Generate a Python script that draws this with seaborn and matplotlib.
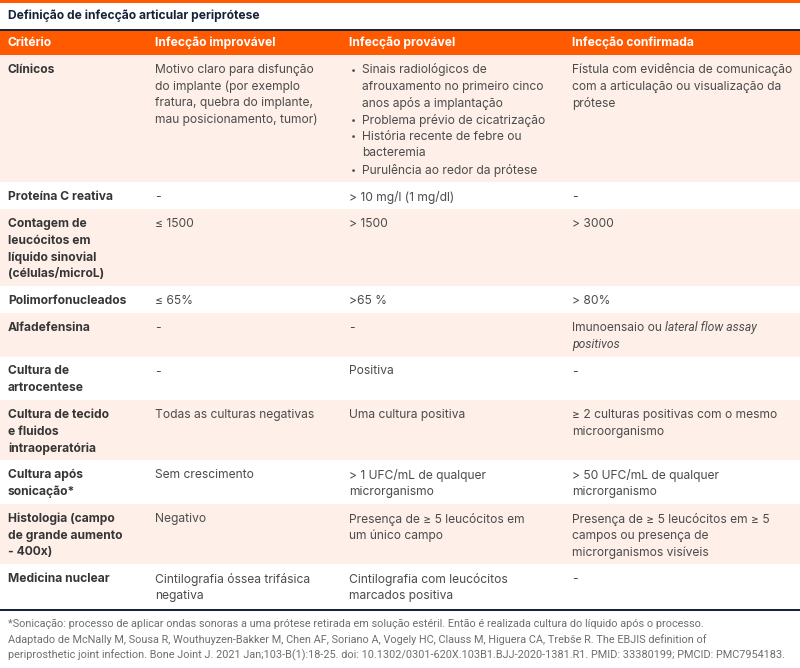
import matplotlib
matplotlib.use("Agg")
import matplotlib.pyplot as plt
import seaborn as sns

# table content
title = "Definição de infecção articular periprótese"
columns = ["Critério", "Infecção improvável", "Infecção provável", "Infecção confirmada"]

criteria = [
    "Clínicos",
    "Proteína C reativa",
    "Contagem de\nleucócitos em\nlíquido sinovial\n(células/microL)",
    "Polimorfonucleados",
    "Alfadefensina",
    "Cultura de\nartrocentese",
    "Cultura de tecido\ne fluidos\nintraoperatória",
    "Cultura após\nsonicação*",
    "Histologia (campo\nde grande aumento\n- 400x)",
    "Medicina nuclear",
]

improvavel = [
    "Motivo claro para disfunção\ndo implante (por exemplo\nfratura, quebra do implante,\nmau posicionamento, tumor)",
    "-",
    "≤ 1500",
    "≤ 65%",
    "-",
    "-",
    "Todas as culturas negativas",
    "Sem crescimento",
    "Negativo",
    "Cintilografia óssea trifásica\nnegativa",
]

# bullet lists are python lists, italic parts are wrapped in _..._
provavel = [
    ["Sinais radiológicos de\nafrouxamento no primeiro cinco\nanos após a implantação",
     "Problema prévio de cicatrização",
     "História recente de febre ou\nbacteremia",
     "Purulência ao redor da prótese"],
    "> 10 mg/l (1 mg/dl)",
    "> 1500",
    ">65 %",
    "-",
    "Positiva",
    "Uma cultura positiva",
    "> 1 UFC/mL de qualquer\nmicrorganismo",
    "Presença de ≥ 5 leucócitos em\num único campo",
    "Cintilografia com leucócitos\nmarcados positiva",
]

confirmada = [
    "Fístula com evidência de comunicação\ncom a articulação ou visualização da\nprótese",
    "-",
    "> 3000",
    "> 80%",
    "Imunoensaio ou _lateral flow assay_\n_positivos_",
    "-",
    "≥ 2 culturas positivas com o mesmo\nmicroorganismo",
    "> 50 UFC/mL de qualquer\nmicrorganismo",
    "Presença de ≥ 5 leucócitos em ≥ 5\ncampos ou presença de\nmicrorganismos visíveis",
    "-",
]

footnote = [
    "*Sonicação: processo de aplicar ondas sonoras a uma prótese retirada em solução estéril. Então é realizada cultura do líquido após o processo.",
    "Adaptado de McNally M, Sousa R, Wouthuyzen-Bakker M, Chen AF, Soriano A, Vogely HC, Clauss M, Higuera CA, Trebše R. The EBJIS definition of",
    "periprosthetic joint infection. Bone Joint J. 2021 Jan;103-B(1):18-25. doi: 10.1302/0301-620X.103B1.BJJ-2020-1381.R1. PMID: 33380199; PMCID: PMC7954183.",
]

ORANGE = "#ff5a00"
PEACH = "#fef0e9"
NAVY = "#16243a"
TEXT = "#4c4c4c"
BOLD_TEXT = "#363636"

sns.set_theme(style="white")
plt.rcParams["font.family"] = ["Inter", "DejaVu Sans"]

W, H = 800, 668
fig = plt.figure(figsize=(8, 6.68), dpi=100)
ax = fig.add_axes([0, 0, 1, 1])
ax.set_xlim(0, W)
ax.set_ylim(H, 0)
ax.axis("off")
renderer = fig.canvas.get_renderer()

FS = 8.7
LH = 16.7
col_x = [8, 155, 349, 572]


def draw_line(x, y, line, color, weight="normal"):
    # split a line into regular / italic segments
    parts = line.split("_")
    for i, part in enumerate(parts):
        if not part:
            continue
        if i % 2 == 1:
            t = ax.text(x, y, part, fontsize=FS, color=color, va="center", ha="left",
                        style="italic", family=["Roboto", "DejaVu Sans"])
        else:
            t = ax.text(x, y, part, fontsize=FS, color=color, va="center", ha="left",
                        weight=weight)
        x += t.get_window_extent(renderer).width


def n_lines(cell):
    if isinstance(cell, list):
        return sum(c.count("\n") + 1 for c in cell)
    return cell.count("\n") + 1


# top rule, title, header
ax.axhspan(0, 2.5, color=ORANGE, lw=0)
ax.text(8, 16, title, fontsize=FS, weight="bold", color=NAVY, va="center", ha="left")
ax.axhspan(29.2, 30.8, color=NAVY, lw=0)
ax.axhspan(31, 55, color=ORANGE, lw=0)
for x, c in zip(col_x, columns):
    ax.text(x, 43, c, fontsize=FS, weight="bold", color="white", va="center", ha="left")

y = 55
for i in range(len(criteria)):
    cells = [criteria[i], improvavel[i], provavel[i], confirmada[i]]
    nl = max(n_lines(c) for c in cells)
    h = nl * LH + 10.2
    if i % 2 == 0:
        ax.axhspan(y, y + h, color=PEACH, lw=0)
    for j, cell in enumerate(cells):
        y0 = y + 15
        if isinstance(cell, list):
            k = 0
            for item in cell:
                ax.text(col_x[j] + 1.5, y0 + k * LH, "•", fontsize=FS * 0.75, color=TEXT,
                        va="center", ha="left")
                for ln in item.split("\n"):
                    draw_line(col_x[j] + 13, y0 + k * LH, ln, TEXT)
                    k += 1
        else:
            for k, ln in enumerate(cell.split("\n")):
                if j == 0:
                    draw_line(col_x[j], y0 + k * LH, ln, BOLD_TEXT, weight="bold")
                else:
                    draw_line(col_x[j], y0 + k * LH, ln, TEXT)
    y += h

ax.axhspan(y + 1, y + 3, color=NAVY, lw=0)

for k, ln in enumerate(footnote):
    ax.text(8, y + 16 + k * 15.5, ln, fontsize=7.8, color="#6e6e6e", va="center", ha="left",
            family=["Roboto", "DejaVu Sans"])

fig.savefig("out.png", dpi=100)
